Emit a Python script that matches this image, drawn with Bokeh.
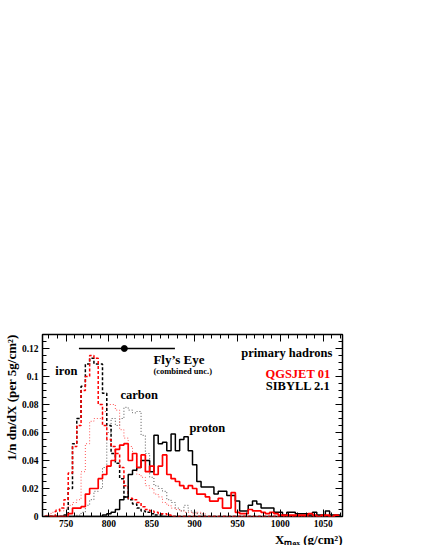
import math
from bokeh.plotting import figure
from bokeh.models import (LinearAxis, Range1d, Label, SingleIntervalTicker,
                          CustomJSTickFormatter, Title)
from bokeh.embed import file_html
from bokeh.resources import INLINE

# ---- data: bin centres (5 g/cm^2 bins) ----
bin_centers = list(range(725, 1075, 5))  # 725 ... 1070

def series(d):
    return [d.get(c, 0.0) for c in bin_centers]

iron_sibyll = series({750: .001, 755: .02, 760: .052, 765: .07, 770: .093, 775: .109, 780: .113,
                      785: .109, 790: .109, 795: .088, 800: .065, 805: .045, 810: .038, 815: .027,
                      820: .014, 825: .012, 830: .009, 835: .006, 840: .004, 845: .003, 850: .002,
                      855: .001, 860: .001})
iron_qgsjet = series({740: .004, 745: .006, 750: .012, 755: .031, 760: .05, 765: .065, 770: .09,
                      775: .1, 780: .115, 785: .113, 790: .08, 795: .065, 800: .055, 805: .05,
                      810: .045, 815: .035, 820: .022, 825: .013, 830: .012, 835: .01, 840: .007,
                      845: .005, 850: .004, 855: .003, 860: .002, 865: .002, 870: .001})
carbon_sibyll = series({765: .001, 770: .003, 775: .008, 780: .012, 785: .018, 790: .02, 795: .035,
                        800: .06, 805: .07, 810: .065, 815: .07, 820: .078, 825: .076, 830: .074,
                        835: .075, 840: .058, 845: .045, 850: .028, 855: .022, 860: .02, 865: .018,
                        870: .012, 875: .01, 880: .006, 885: .004, 890: .008, 895: .004, 900: .003,
                        905: .002, 910: .001})
carbon_qgsjet = series({730: .001, 735: .003, 740: .005, 745: .004, 750: .006, 755: .008, 760: .01,
                        765: .012, 770: .032, 775: .052, 780: .068, 785: .07, 790: .07, 795: .075,
                        800: .08, 805: .08, 810: .076, 815: .062, 820: .056, 825: .05, 830: .045,
                        835: .03, 840: .028, 845: .022, 850: .02, 855: .016, 860: .014, 865: .01,
                        870: .008, 875: .006, 880: .005, 885: .004, 890: .003, 895: .003, 900: .002,
                        905: .003, 910: .002})
proton_sibyll = series({795: .001, 800: .002, 805: .003, 810: .005, 815: .012, 820: .014, 825: .03,
                        830: .033, 835: .035, 840: .04, 845: .04, 850: .032, 855: .058, 860: .052,
                        865: .053, 870: .047, 875: .059, 880: .047, 885: .055, 890: .057, 895: .047,
                        900: .037, 905: .025, 910: .021, 915: .021, 920: .021, 925: .016, 930: .018,
                        935: .018, 940: .015, 945: .015, 950: .011, 955: .004, 960: .004, 965: .008,
                        970: .011, 975: .009, 980: .006, 985: .006, 990: .006, 995: .003, 1000: .003,
                        1005: .001, 1010: .003, 1015: .003, 1020: .002, 1025: .002, 1030: .002,
                        1035: .001, 1040: .003, 1045: .001, 1050: .001, 1055: .004, 1060: .001,
                        1065: .001, 1070: .001})
proton_qgsjet = series({755: .002, 760: .006, 765: .006, 770: .007, 775: .016, 780: .02, 785: .02,
                        790: .027, 795: .03, 800: .036, 805: .04, 810: .048, 815: .051, 820: .052,
                        825: .04, 830: .045, 835: .035, 840: .044, 845: .032, 850: .036, 855: .03,
                        860: .036, 865: .044, 870: .03, 875: .027, 880: .025, 885: .022, 890: .02,
                        895: .022, 900: .02, 905: .016, 910: .016, 915: .014, 920: .011, 925: .011,
                        930: .013, 935: .006, 940: .006, 945: .017, 950: .003, 955: .002, 960: .002,
                        965: .005, 970: .004, 975: .004, 980: .003, 985: .002, 990: .003, 995: .002,
                        1000: .001, 1005: .001, 1010: .001, 1015: .001, 1020: .001, 1025: .001,
                        1030: .001, 1035: .002, 1040: .001, 1050: .001, 1055: .001, 1065: .001})

# Fly's Eye measurement
fe_x = [818]
fe_y = [0.12]
fe_lo = [765]
fe_hi = [877]

x_title = "X\u2098\u2090\u2093 (g/cm\u00b2)"
y_title = "1/n dn/dX (per 5g/cm\u00b2)"

FONT = "Liberation Serif"

p = figure(output_backend="svg", toolbar_location=None,
           x_range=Range1d(722.5, 1072.5), y_range=Range1d(0, 0.13),
           frame_width=300, frame_height=182,
           min_border_left=42, min_border_right=71, min_border_top=334, min_border_bottom=21)
p.xgrid.visible = False
p.ygrid.visible = False
p.outline_line_color = "black"
p.outline_line_width = 1.5
p.background_fill_color = "white"
p.border_fill_color = "white"

xt = SingleIntervalTicker(interval=50, num_minor_ticks=5)
yt = SingleIntervalTicker(interval=0.02, num_minor_ticks=4)
yfmt = CustomJSTickFormatter(code="return tick.toFixed(2).replace(/\\.?0+$/, '');")
blank = CustomJSTickFormatter(code="return '';")

def style_axis(ax):
    ax.axis_line_color = None
    ax.major_tick_in = 7
    ax.major_tick_out = 0
    ax.minor_tick_in = 4
    ax.minor_tick_out = 0
    ax.major_tick_line_width = 1
    ax.minor_tick_line_width = 1
    ax.major_label_text_font = FONT
    ax.major_label_text_font_style = "bold"
    ax.major_label_text_font_size = "9.5px"
    ax.major_label_text_color = "black"

p.xaxis.ticker = xt
p.yaxis.ticker = yt
p.yaxis.formatter = yfmt
style_axis(p.xaxis[0])
style_axis(p.yaxis[0])
p.xaxis.major_label_standoff = 3
p.yaxis.major_label_standoff = 4

top = LinearAxis(ticker=xt, formatter=blank)
style_axis(top)
top.major_label_standoff = 0
p.add_layout(top, "above")
right = LinearAxis(ticker=yt, formatter=blank)
style_axis(right)
right.major_label_standoff = 0
p.add_layout(right, "right")

# axis titles, right-aligned at the axis ends (ROOT style)
for text, side in ((x_title, "below"), (y_title, "left")):
    p.add_layout(Title(text=text, align="right", standoff=0, offset=0,
                       text_font=FONT, text_font_style="bold", text_font_size="13px",
                       text_color="black"), side)

# histograms (step outlines)
p.step(bin_centers, carbon_sibyll, mode="center", line_color="#555555", line_width=1, line_dash="1 2")
p.step(bin_centers, carbon_qgsjet, mode="center", line_color="#ff5555", line_width=1, line_dash="1 2")
p.step(bin_centers, iron_sibyll, mode="center", line_color="black", line_width=1.5, line_dash="3 2")
p.step(bin_centers, iron_qgsjet, mode="center", line_color="red", line_width=1.5, line_dash="3 2")
p.step(bin_centers, proton_sibyll, mode="center", line_color="black", line_width=1.5)
p.step(bin_centers, proton_qgsjet, mode="center", line_color="red", line_width=1.7)

# Fly's Eye point
p.segment(x0=fe_lo, y0=fe_y, x1=fe_hi, y1=fe_y, line_color="black", line_width=1.5)
p.scatter(fe_x, fe_y, size=6, color="black")

def lab(x, y, text, size="12.5px", color="black", anchor="center_left"):
    p.add_layout(Label(x=x, y=y, text=text, text_font=FONT, text_font_style="bold",
                       text_font_size=size, text_color=color, anchor=anchor))

lab(737.5, 0.1036, "iron")
lab(813.4, 0.0871, "carbon")
lab(893.9, 0.0629, "proton")
lab(851.9, 0.1121, "Fly\u2019s Eye", size="13px")
lab(851.9, 0.1036, "(combined unc.)", size="8.5px")
lab(1060.7, 0.1171, "primary hadrons", anchor="center_right")
lab(1058.4, 0.1021, "QGSJET 01", color="red", anchor="center_right")
lab(1058.4, 0.0929, "SIBYLL 2.1", anchor="center_right")

open("out.html", "w").write(file_html(p, INLINE))
